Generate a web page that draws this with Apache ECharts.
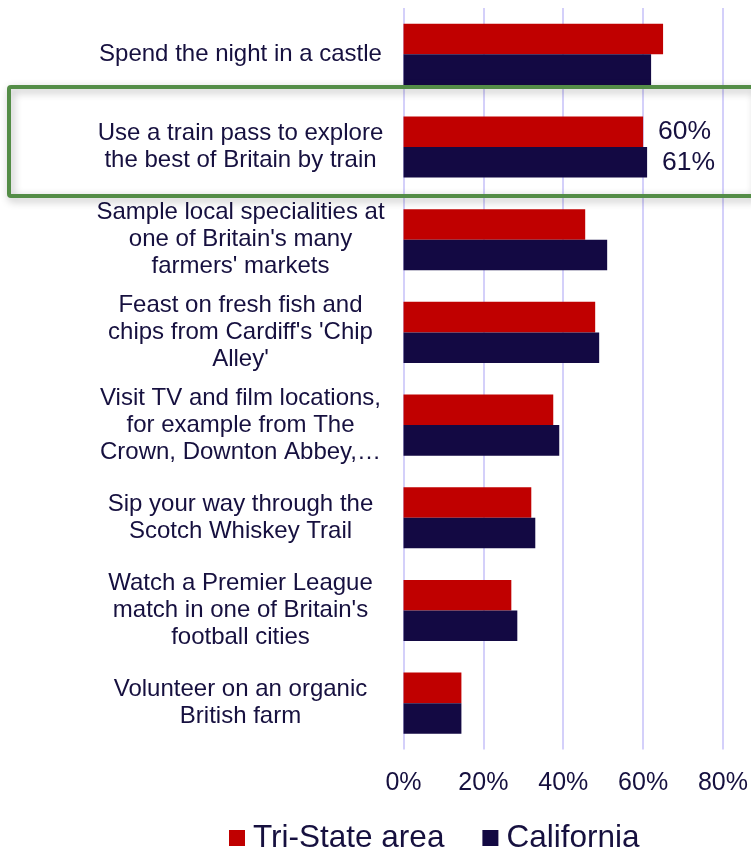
<!DOCTYPE html>
<html>
<head>
<meta charset="utf-8">
<script src="https://cdn.jsdelivr.net/npm/echarts@6/dist/echarts.min.js"></script>
<style>
  html, body { margin: 0; padding: 0; background: #fff; }
  #chart { width: 751px; height: 850px; }
</style>
</head>
<body>
<div id="chart"></div>
<script>
const categories = [
  'Spend the night in a castle',
  'Use a train pass to explore\nthe best of Britain by train',
  "Sample local specialities at\none of Britain's many\nfarmers' markets",
  "Feast on fresh fish and\nchips from Cardiff's 'Chip\nAlley'",
  'Visit TV and film locations,\nfor example from The\nCrown, Downton Abbey,…',
  'Sip your way through the\nScotch Whiskey Trail',
  "Watch a Premier League\nmatch in one of Britain's\nfootball cities",
  'Volunteer on an organic\nBritish farm'
];
const triState = [65, 60, 45.5, 48, 37.5, 32, 27, 14.5];
const california = [62, 61, 51, 49, 39, 33, 28.5, 14.5];
const xTicks = [0, 20, 40, 60, 80];
const highlightIndex = 1;

const chart = echarts.init(document.getElementById('chart'));
const textColor = '#16103f';
const font = 'Liberation Sans, Arial, sans-serif';

const withLabel = vals => vals.map((v, i) => i === highlightIndex
  ? { value: v, label: { show: true, position: 'right', distance: 15, formatter: p => Math.round(p.value) + '%',
      fontSize: 26.5, color: textColor, fontFamily: font } }
  : v);

const option = {
  animation: false,
  backgroundColor: '#fff',
  grid: { left: 403.5, right: 26.5, top: 8, height: 741.5 },
  xAxis: {
    type: 'value',
    min: xTicks[0],
    max: xTicks[xTicks.length - 1],
    interval: 20,
    axisLine: { show: false },
    axisTick: { show: false },
    splitLine: { show: true, lineStyle: { color: '#c6c1f8', width: 1.5 } },
    axisLabel: { formatter: '{value}%', fontSize: 25, color: textColor, fontFamily: font, margin: 21 }
  },
  yAxis: {
    type: 'category',
    data: categories,
    inverse: true,
    axisLine: { show: false },
    axisTick: { show: false },
    axisLabel: {
      align: 'center', margin: 163, fontSize: 24, lineHeight: 27,
      color: textColor, fontFamily: font, interval: 0
    }
  },
  legend: {
    top: 817,
    left: 224,
    icon: 'rect',
    itemWidth: 16,
    itemHeight: 16,
    itemGap: 38,
    textStyle: { fontSize: 31.5, color: textColor, fontFamily: font, padding: [0, 0, 0, 3] },
    data: ['Tri-State area', 'California']
  },
  series: [
    { name: 'Tri-State area', type: 'bar', data: withLabel(triState), itemStyle: { color: '#c00000' },
      barGap: '0%', barCategoryGap: '34%' },
    { name: 'California', type: 'bar', data: withLabel(california), itemStyle: { color: '#130943' },
      barGap: '0%', barCategoryGap: '34%' }
  ],
  graphic: [{
    type: 'rect',
    shape: { x: 9, y: 87, width: 746, height: 109, r: 2 },
    style: { fill: 'none', stroke: '#548d47', lineWidth: 4,
      shadowBlur: 8, shadowColor: 'rgba(0,0,0,0.3)', shadowOffsetX: 2, shadowOffsetY: 3 },
    z: 100
  }]
};

chart.setOption(option);
</script>
</body>
</html>
